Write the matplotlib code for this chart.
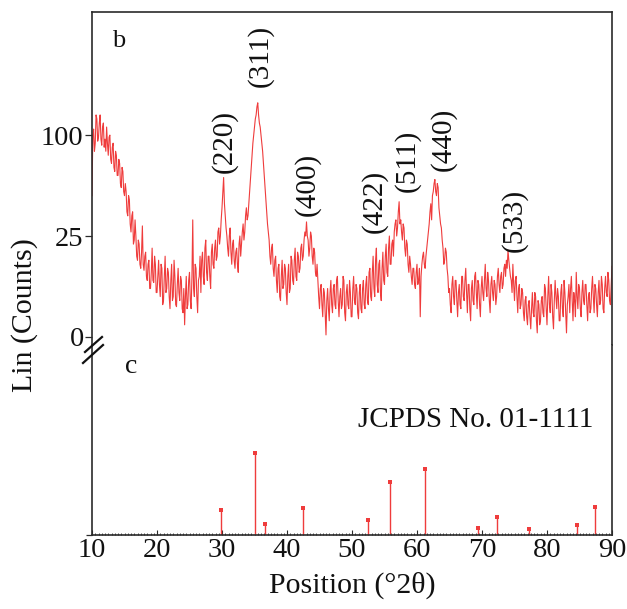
import numpy as np
import matplotlib
matplotlib.use('Agg')
import matplotlib.pyplot as plt
from matplotlib.lines import Line2D
from matplotlib.ticker import MultipleLocator

plt.rcParams['font.family'] = ['Liberation Serif', 'DejaVu Serif']

# ---------------- data ----------------
two_theta_start = 10.0
two_theta_step = 0.125
# intensity (panel b), one row per degree: d, d+.125, ..., d+.875
intensity_rows = [
    [70, 100, 103, 92, 96, 110, 108, 97],     # 10
    [99, 106, 110, 98, 95, 104, 106, 94],     # 11
    [98, 92, 104, 96, 90, 99, 100, 88],       # 12
    [86, 94, 96, 84, 82, 92, 90, 80],         # 13
    [80, 88, 86, 76, 74, 84, 82, 72],         # 14
    [70, 76, 72, 62, 60, 70, 68, 56],         # 15
    [52, 60, 62, 46, 48, 58, 50, 40],         # 16
    [38, 48, 46, 36, 34, 42, 55, 36],         # 17
    [33, 40, 42, 30, 28, 36, 38, 24],         # 18
    [24, 32, 44, 28, 27, 40, 36, 22],         # 19
    [22, 30, 38, 26, 20, 36, 34, 16],         # 20
    [18, 30, 40, 22, 24, 34, 32, 20],         # 21
    [14, 28, 36, 18, 20, 38, 30, 16],         # 22
    [15, 26, 34, 22, 18, 30, 28, 14],         # 23
    [12, 24, 6, 20, 30, 14, 16, 28],          # 24
    [32, 18, 14, 30, 58, 24, 20, 36],         # 25
    [34, 20, 12, 28, 30, 40, 22, 38],         # 26
    [42, 30, 26, 44, 48, 32, 28, 40],         # 27
    [40, 30, 24, 42, 46, 36, 34, 44],         # 28
    [48, 38, 40, 52, 54, 46, 50, 58],         # 29
    [64, 72, 79, 66, 60, 54, 50, 44],         # 30
    [40, 50, 54, 42, 36, 46, 48, 38],         # 31
    [34, 42, 44, 36, 32, 46, 50, 40],         # 32
    [46, 52, 56, 48, 52, 60, 64, 58],         # 33
    [60, 66, 72, 78, 84, 90, 96, 100],        # 34
    [104, 108, 110, 114, 116, 110, 106, 104], # 35
    [100, 96, 92, 86, 80, 74, 68, 62],        # 36
    [56, 52, 48, 40, 36, 44, 46, 34],         # 37
    [30, 38, 40, 28, 22, 34, 36, 20],         # 38
    [18, 30, 38, 24, 26, 36, 34, 22],         # 39
    [16, 30, 36, 22, 24, 40, 38, 28],         # 40
    [26, 38, 44, 30, 28, 42, 40, 32],         # 41
    [34, 44, 46, 38, 40, 48, 52, 50],         # 42
    [57, 50, 48, 40, 44, 52, 50, 40],         # 43
    [36, 44, 42, 32, 30, 36, 28, 20],         # 44
    [14, 24, 26, 16, 10, 24, 22, 12],         # 45
    [1, 18, 24, 14, 8, 22, 28, 16],           # 46
    [12, 24, 26, 16, 14, 28, 30, 18],         # 47
    [10, 20, 24, 14, 16, 30, 28, 12],         # 48
    [8, 22, 26, 16, 14, 28, 22, 10],          # 49
    [10, 24, 30, 18, 16, 26, 24, 12],         # 50
    [9, 22, 26, 14, 12, 24, 28, 16],          # 51
    [14, 26, 30, 18, 16, 32, 34, 20],         # 52
    [18, 32, 40, 24, 20, 38, 44, 26],         # 53
    [22, 36, 38, 22, 18, 34, 42, 28],         # 54
    [26, 40, 46, 32, 30, 44, 50, 36],         # 55
    [36, 46, 48, 40, 52, 56, 58, 50],         # 56
    [54, 62, 67, 56, 58, 52, 48, 56],         # 57
    [54, 44, 40, 48, 46, 36, 32, 40],         # 58
    [36, 30, 26, 34, 34, 26, 24, 32],         # 59
    [36, 26, 28, 34, 10, 30, 36, 40],         # 60
    [42, 36, 34, 40, 44, 48, 52, 56],         # 61
    [62, 66, 58, 70, 72, 76, 78, 72],         # 62
    [70, 76, 74, 64, 60, 56, 54, 48],         # 63
    [44, 36, 38, 44, 42, 34, 30, 22],         # 64
    [24, 16, 12, 26, 30, 20, 16, 28],         # 65
    [28, 18, 10, 22, 26, 16, 14, 30],         # 66
    [30, 20, 18, 28, 34, 22, 12, 26],         # 67
    [26, 14, 8, 24, 28, 18, 16, 30],          # 68
    [32, 22, 14, 28, 26, 16, 10, 24],         # 69
    [30, 22, 18, 28, 36, 24, 20, 32],         # 70
    [28, 18, 12, 26, 30, 22, 18, 28],         # 71
    [26, 16, 20, 30, 34, 26, 22, 30],         # 72
    [32, 24, 26, 34, 36, 30, 38, 34],         # 73
    [43, 38, 34, 30, 28, 22, 36, 26],         # 74
    [18, 28, 30, 20, 12, 24, 26, 14],         # 75
    [16, 24, 22, 12, 8, 18, 20, 10],          # 76
    [6, 16, 18, 10, 4, 14, 22, 12],           # 77
    [10, 22, 20, 8, 2, 18, 16, 6],            # 78
    [8, 18, 20, 12, 10, 26, 24, 14],          # 79
    [6, 20, 30, 16, 12, 26, 22, 10],          # 80
    [4, 18, 28, 20, 14, 24, 20, 8],           # 81
    [8, 22, 26, 14, 10, 28, 22, 12],          # 82
    [2, 16, 20, 26, 12, 24, 30, 18],          # 83
    [8, 22, 18, 10, 32, 20, 14, 26],          # 84
    [24, 14, 10, 22, 28, 18, 16, 26],         # 85
    [26, 16, 8, 20, 22, 12, 14, 24],          # 86
    [30, 20, 12, 26, 24, 16, 10, 22],         # 87
    [28, 16, 18, 30, 26, 14, 12, 24],         # 88
    [30, 22, 20, 32, 28, 18, 16, 26],         # 89
    [35],                                     # 90
]

y_tick_pos = [0, 50, 100]
y_tick_labels = ['0', '25', '100']

peak_labels = ['(220)', '(311)', '(400)', '(422)', '(511)', '(440)', '(533)']
peak_label_x = [30.4, 35.85, 43.1, 53.5, 58.5, 64.0, 74.9]
peak_label_y = [81, 124, 60, 51.5, 72, 82, 42]

# JCPDS reference sticks (panel c)
ref_pos = [29.85, 35.0, 36.6, 42.4, 52.4, 55.8, 61.3, 69.4, 72.35, 77.2, 84.6, 87.4]
ref_int = [30, 100, 13, 33, 18, 65, 80, 8.5, 22, 7, 12, 34]

x_ticks = [10, 20, 30, 40, 50, 60, 70, 80, 90]

# ---------------- figure ----------------
W, H = 627, 609
fig = plt.figure(figsize=(W / 100, H / 100), dpi=100)

def fx(px):
    return px / W

def fy(py):
    return 1 - py / H

left, right = 92, 612
top, mid, bottom = 12, 345, 535

ax_t = fig.add_axes([fx(left), fy(mid), fx(right) - fx(left), fy(top) - fy(mid)])
ax_b = fig.add_axes([fx(left), fy(bottom), fx(right) - fx(left), fy(mid) - fy(bottom)])

intensity = [v for row in intensity_rows for v in row]
two_theta = two_theta_start + two_theta_step * np.arange(len(intensity))

red = '#ef3c3c'
spine_col = '#2a2a2a'
fs = 20.5

ax_t.plot(two_theta, intensity, color=red, lw=0.8)
ax_t.set_xlim(10, 90)
ax_t.set_ylim(-4, 161)
ax_t.set_xticks([])
ax_t.set_yticks(y_tick_pos)
ax_t.set_yticklabels(y_tick_labels, fontsize=fs)
ax_t.tick_params(axis='y', direction='out', length=5, width=0.9, pad=1, colors=spine_col)
ax_t.spines['bottom'].set_visible(False)
for s in ['top', 'left', 'right']:
    ax_t.spines[s].set_color(spine_col)
    ax_t.spines[s].set_linewidth(1.2)

for lab, x, y in zip(peak_labels, peak_label_x, peak_label_y):
    ax_t.text(x, y, lab, rotation=90, ha='center', va='bottom', fontsize=21, color='#111111')

ax_b.vlines(ref_pos, 0, ref_int, color=red, lw=1.0)
ax_b.plot(ref_pos, ref_int, 's', color=red, ms=2.2, mew=0)
ax_b.set_xlim(10, 90)
ax_b.set_ylim(0, 232)
ax_b.set_xticks(x_ticks)
ax_b.set_xticklabels([str(t) for t in x_ticks], fontsize=fs)
ax_b.xaxis.set_minor_locator(MultipleLocator(0.5))
ax_b.tick_params(axis='x', which='major', direction='in', length=3.5, width=0.8, pad=2, colors=spine_col)
ax_b.tick_params(axis='x', which='minor', direction='in', length=1.8, width=0.6, colors=spine_col)
ax_b.set_yticks([0])
ax_b.set_yticklabels([''])
ax_b.tick_params(axis='y', direction='out', length=4, width=0.9, colors=spine_col)
ax_b.spines['top'].set_visible(False)
for s in ['bottom', 'left', 'right']:
    ax_b.spines[s].set_color(spine_col)
    ax_b.spines[s].set_linewidth(1.2)
for t in ax_b.get_xticklabels():
    t.set_color('#111111')
for t in ax_t.get_yticklabels():
    t.set_color('#111111')

# panel letters and annotation
fig.text(fx(112), fy(47), 'b', fontsize=19, ha='left', va='baseline', color='#111111')
fig.text(fx(125), fy(373), 'c', fontsize=20, ha='left', va='baseline', color='#111111')
fig.text(fx(593), fy(427), 'JCPDS No. 01-1111', fontsize=21, ha='right', va='baseline', color='#111111')

# axis labels
fig.text(fx(25), fy(315), 'Lin (Counts)', rotation=90, fontsize=21.5, ha='center', va='center', color='#111111')
fig.text(fx(352), fy(593), 'Position (°2θ)', fontsize=21.5, ha='center', va='baseline', color='#111111')

# axis break marks
for (x0, y0, x1, y1) in [(85, 352, 102, 337), (83, 363, 103, 345)]:
    fig.add_artist(Line2D([fx(x0), fx(x1)], [fy(y0), fy(y1)], transform=fig.transFigure,
                          color='#111111', lw=1.6))

fig.savefig('out.png', dpi=100)
